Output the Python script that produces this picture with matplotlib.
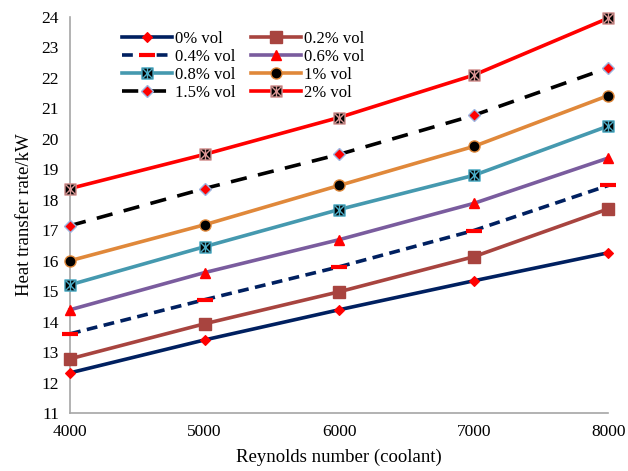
import matplotlib
matplotlib.use("Agg")
import matplotlib.pyplot as plt
from matplotlib.path import Path

plt.rcParams['font.family'] = ['Liberation Serif', 'DejaVu Serif']

reynolds = [4000, 5000, 6000, 7000, 8000]
labels = ['0% vol', '0.2% vol', '0.4% vol', '0.6% vol', '0.8% vol', '1% vol', '1.5% vol', '2% vol']
q_0 = [12.32, 13.40, 14.39, 15.34, 16.26]
q_02 = [12.78, 13.93, 14.98, 16.13, 17.70]
q_04 = [13.60, 14.72, 15.80, 16.99, 18.47]
q_06 = [14.39, 15.61, 16.69, 17.88, 19.37]
q_08 = [15.21, 16.46, 17.68, 18.80, 20.42]
q_1 = [16.00, 17.18, 18.47, 19.75, 21.42]
q_15 = [17.15, 18.37, 19.49, 20.77, 22.33]
q_2 = [18.37, 19.49, 20.70, 22.09, 23.96]
series = [q_0, q_02, q_04, q_06, q_08, q_1, q_15, q_2]

# square with asterisk marker
verts = [(-1, -1), (1, -1), (1, 1), (-1, 1), (-1, -1),
         (-0.8, -0.8), (0.8, 0.8),
         (-0.8, 0.8), (0.8, -0.8),
         (0, -0.9), (0, 0.9)]
codes = [Path.MOVETO, Path.LINETO, Path.LINETO, Path.LINETO, Path.CLOSEPOLY,
         Path.MOVETO, Path.LINETO, Path.MOVETO, Path.LINETO, Path.MOVETO, Path.LINETO]
star_sq = Path(verts, codes)

styles = [
    dict(color='#002060', ls='-', marker='D', ms=5.5, mfc='red', mec='red', mew=0.8),
    dict(color='#A8443F', ls='-', marker='s', ms=8.5, mfc='#A8443F', mec='#A8443F'),
    dict(color='#002060', ls=(0, (3.0, 1.8)), marker='_', ms=11, mfc='red', mec='red', mew=3),
    dict(color='#7A5C9E', ls='-', marker='^', ms=7.5, mfc='red', mec='red'),
    dict(color='#4599AF', ls='-', marker=star_sq, ms=8, mfc='black', mec='#4BACC6', mew=1.0),
    dict(color='#E0883A', ls='-', marker='o', ms=8, mfc='black', mec='#E0883A', mew=1.0),
    dict(color='black', ls=(0, (4.5, 3.2)), marker='D', ms=6.5, mfc='red', mec='#9DB5E0', mew=1.0),
    dict(color='red', ls='-', marker=star_sq, ms=8, mfc='black', mec='#D99694', mew=1.0),
]

fig = plt.figure(figsize=(6.28, 4.71), dpi=100)
ax = fig.add_axes([0.1115, 0.123, 0.857, 0.841])

handles = []
for vals, lab, st in zip(series, labels, styles):
    h, = ax.plot(reynolds, vals, lw=2.6, label=lab, clip_on=False, zorder=3, **st)
    handles.append(h)

ax.set_xlim(4000, 8000)
ax.set_ylim(11, 24)
ax.set_xticks(reynolds)
ax.set_yticks(range(11, 25))
ax.tick_params(axis='both', length=0, labelsize=12.5, pad=8)
for s in ['top', 'right']:
    ax.spines[s].set_visible(False)
for s in ['left', 'bottom']:
    ax.spines[s].set_color('#A6A6A6')
    ax.spines[s].set_linewidth(1.2)

ax.set_xlabel('Reynolds number (coolant)', fontsize=13.5, labelpad=6)
ax.set_ylabel('Heat transfer rate/kW', fontsize=13.5, labelpad=6)

order = [0, 2, 4, 6, 1, 3, 5, 7]
leg = ax.legend([handles[i] for i in order], [labels[i] for i in order],
                ncol=2, loc='upper left', bbox_to_anchor=(0.075, 0.995), frameon=False,
                fontsize=12, handlelength=3.0, handletextpad=0.2, columnspacing=0.9,
                labelspacing=0.12, borderaxespad=0.3)

fig.savefig('out.png', dpi=100)
